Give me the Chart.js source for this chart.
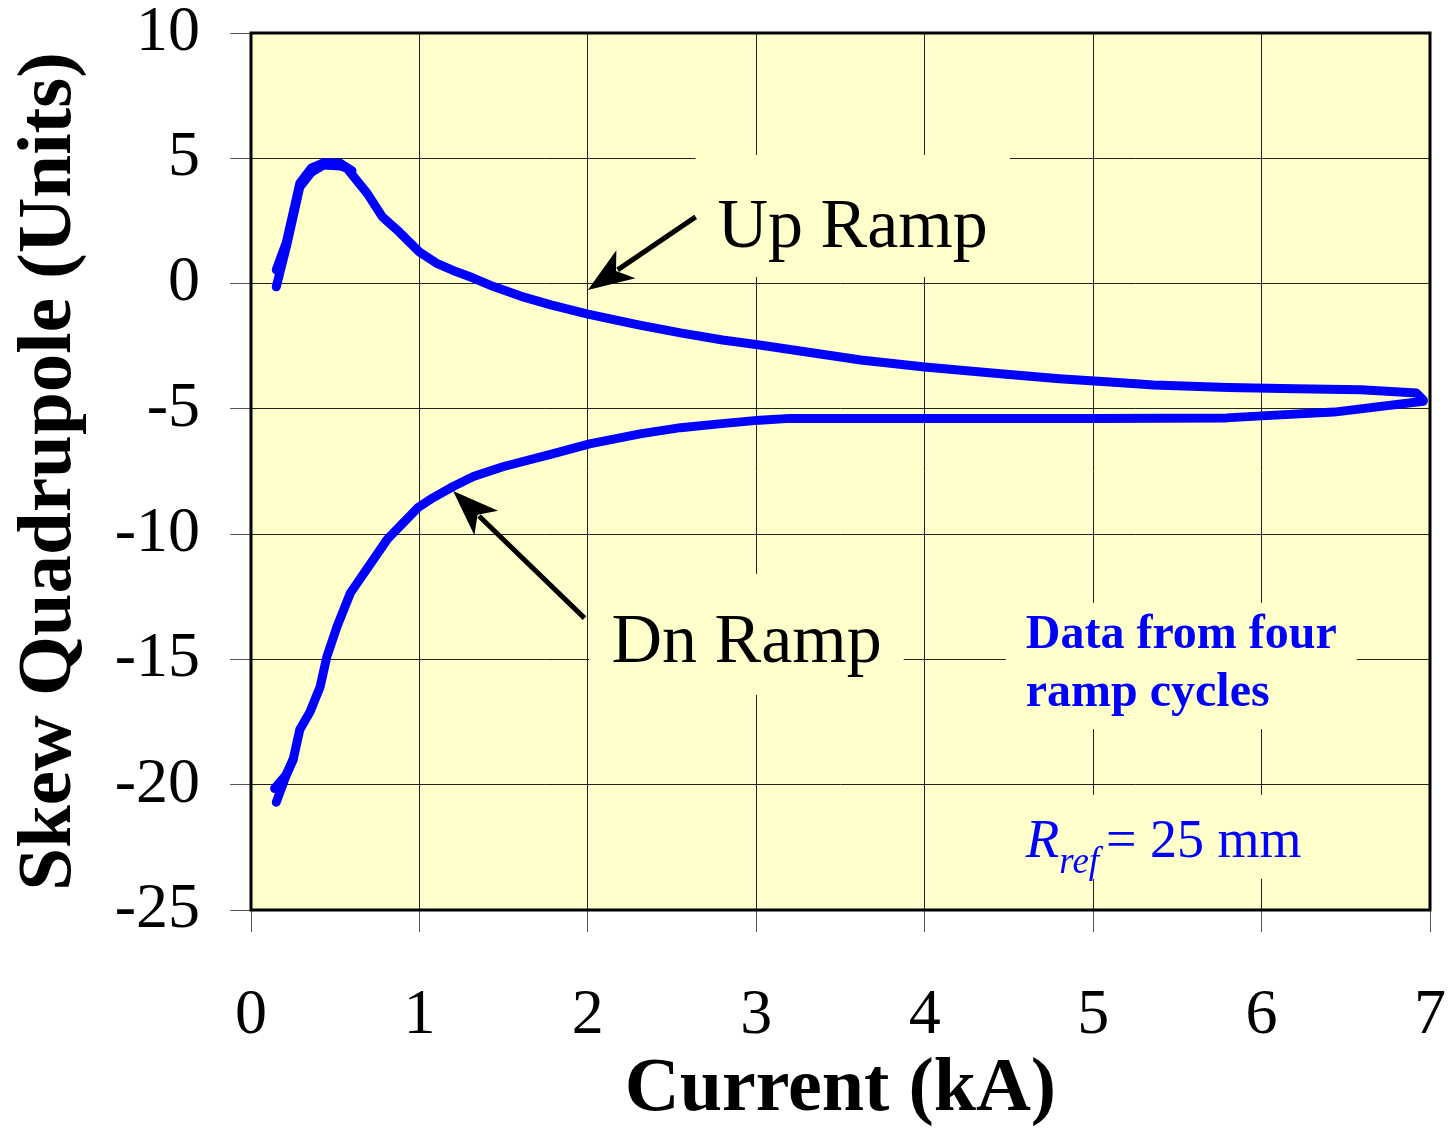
<!DOCTYPE html>
<html>
<head>
<meta charset="utf-8">
<script src="https://cdn.jsdelivr.net/npm/chart.js@4.4.1/dist/chart.umd.min.js"></script>
<style>
    html, body { margin: 0; padding: 0; background: #ffffff; }
    #wrap { width: 1449px; height: 1128px; }
</style>
</head>
<body>
<div id="wrap"><canvas id="chartSkewQuad"></canvas></div>
<script>
// Up ramp (cycle A, full) - current in kA, skew quadrupole in units
const upCurrent = [0.15, 0.21, 0.29, 0.36, 0.43, 0.53, 0.57, 0.69, 0.78, 0.88, 1.0, 1.10, 1.22, 1.32, 1.44, 1.6, 1.78, 2.0, 2.3, 2.55, 2.8, 3.02, 3.3, 3.62, 4.0, 4.45, 4.8, 5.1, 5.36, 5.8, 6.2, 6.59, 6.92, 6.96];
const upSkew = [-0.13, 1.47, 3.86, 4.45, 4.73, 4.69, 4.6, 3.6, 2.66, 2.06, 1.26, 0.82, 0.47, 0.22, -0.12, -0.5, -0.85, -1.22, -1.65, -1.97, -2.25, -2.45, -2.73, -3.05, -3.33, -3.6, -3.8, -3.93, -4.05, -4.15, -4.2, -4.24, -4.37, -4.64];

// Up ramp (cycle B, start only)
const upCurrentB = [0.15, 0.21, 0.29, 0.36, 0.43, 0.53, 0.6];
const upSkewB = [0.55, 1.65, 4.0, 4.62, 4.82, 4.8, 4.5];

// Down ramp (cycle A, full)
const dnCurrent = [6.96, 6.43, 6.0, 5.79, 5.0, 4.0, 3.2, 3.02, 2.78, 2.55, 2.31, 2.01, 1.79, 1.5, 1.32, 1.2, 1.08, 0.99, 0.81, 0.59, 0.51, 0.45, 0.41, 0.35, 0.29, 0.25, 0.21, 0.15];
const dnSkew = [-4.7, -5.13, -5.28, -5.36, -5.38, -5.38, -5.38, -5.45, -5.6, -5.75, -6.0, -6.4, -6.8, -7.3, -7.7, -8.1, -8.55, -8.95, -10.2, -12.35, -13.7, -14.9, -16.1, -17.1, -17.8, -19.0, -19.6, -20.7];

// Down ramp (cycle B, end only)
const dnCurrentB = [0.25, 0.21, 0.14];
const dnSkewB = [-19.0, -19.6, -20.15];

const xTicks = [0, 1, 2, 3, 4, 5, 6, 7];
const yTicks = [-25, -20, -15, -10, -5, 0, 5, 10];

const serif = "'Liberation Serif', 'Times New Roman', serif";
const blue = "#0000ff";

function puntos(xs, ys) {
    return xs.map((x, i) => ({ x: x, y: ys[i] }));
}

function serie(xs, ys) {
    return {
        data: puntos(xs, ys),
        showLine: true,
        borderColor: blue,
        borderWidth: 9,
        pointRadius: 0,
        tension: 0,
        borderCapStyle: "round",
        borderJoinStyle: "round"
    };
}

// annotation positions in data coordinates
const notas = {
    upText: { x: 2.77, y: 1.46, text: "Up Ramp" },
    dnText: { x: 2.14, y: -15.1, text: "Dn Ramp" },
    upArrow: { from: [2.64, 2.66], to: [2.0, -0.26] },
    dnArrow: { from: [1.98, -13.35], to: [1.20, -8.28] },
    info: { x: 4.6, y1: -14.54, y2: -16.86, line1: "Data from four", line2: "ramp cycles" },
    rref: { x: 4.6, y: -22.88 }
};

function flecha(ctx, x1, y1, x2, y2) {
    const ang = Math.atan2(y2 - y1, x2 - x1);
    const largo = 46, ancho = 17;
    const bx = x2 - largo * Math.cos(ang);
    const by = y2 - largo * Math.sin(ang);
    ctx.save();
    ctx.strokeStyle = "#000";
    ctx.fillStyle = "#000";
    ctx.lineWidth = 5;
    ctx.beginPath();
    ctx.moveTo(x1, y1);
    ctx.lineTo(bx + 10 * Math.cos(ang), by + 10 * Math.sin(ang));
    ctx.stroke();
    ctx.beginPath();
    ctx.moveTo(x2, y2);
    ctx.lineTo(bx + ancho * Math.sin(ang), by - ancho * Math.cos(ang));
    ctx.lineTo(bx + 12 * Math.cos(ang), by + 12 * Math.sin(ang));
    ctx.lineTo(bx - ancho * Math.sin(ang), by + ancho * Math.cos(ang));
    ctx.closePath();
    ctx.fill();
    ctx.restore();
}

function cajaTexto(ctx, x, y, w, arriba, abajo) {
    ctx.fillStyle = "#ffffcc";
    ctx.fillRect(x - 22, y - arriba, w + 44, arriba + abajo);
}

const fondoPlugin = {
    id: "fondo",
    beforeDraw(chart) {
        const { ctx, chartArea } = chart;
        ctx.save();
        ctx.fillStyle = "#ffffcc";
        ctx.fillRect(chartArea.left, chartArea.top, chartArea.right - chartArea.left, chartArea.bottom - chartArea.top);
        ctx.restore();
    },
    beforeDatasetsDraw(chart) {
        const { ctx, scales } = chart;
        const sx = v => scales.x.getPixelForValue(v);
        const sy = v => scales.y.getPixelForValue(v);
        ctx.save();
        ctx.textBaseline = "alphabetic";
        ctx.textAlign = "left";

        // label boxes hide the grid behind the text
        ctx.font = "70px " + serif;
        let w = ctx.measureText(notas.upText.text).width;
        cajaTexto(ctx, sx(notas.upText.x), sy(notas.upText.y), w, 92, 30);
        w = ctx.measureText(notas.dnText.text).width;
        cajaTexto(ctx, sx(notas.dnText.x), sy(notas.dnText.y), w, 88, 33);
        ctx.font = "bold 48px " + serif;
        w = ctx.measureText(notas.info.line1).width;
        ctx.fillStyle = "#ffffcc";
        ctx.fillRect(sx(notas.info.x) - 20, sy(notas.info.y1) - 45, w + 40, sy(notas.info.y2) - sy(notas.info.y1) + 68);
        ctx.fillRect(sx(notas.rref.x) - 17, sy(notas.rref.y) - 62, 300, 84);
        ctx.restore();
    },
    afterDraw(chart) {
        const { ctx, chartArea, scales } = chart;
        const sx = v => scales.x.getPixelForValue(v);
        const sy = v => scales.y.getPixelForValue(v);

        // plot frame
        ctx.save();
        ctx.strokeStyle = "#000";
        ctx.lineWidth = 3;
        ctx.strokeRect(chartArea.left, chartArea.top, chartArea.right - chartArea.left, chartArea.bottom - chartArea.top);
        ctx.restore();

        ctx.save();
        ctx.textBaseline = "alphabetic";
        ctx.textAlign = "left";
        ctx.fillStyle = "#000";
        ctx.font = "70px " + serif;
        ctx.fillText(notas.upText.text, sx(notas.upText.x), sy(notas.upText.y));
        ctx.fillText(notas.dnText.text, sx(notas.dnText.x), sy(notas.dnText.y));

        ctx.fillStyle = blue;
        ctx.font = "bold 48px " + serif;
        ctx.fillText(notas.info.line1, sx(notas.info.x), sy(notas.info.y1));
        ctx.fillText(notas.info.line2, sx(notas.info.x), sy(notas.info.y2));

        // R_ref = 25 mm
        let px = sx(notas.rref.x);
        const py = sy(notas.rref.y);
        ctx.font = "italic 55px " + serif;
        ctx.fillText("R", px, py);
        px += ctx.measureText("R").width;
        ctx.font = "italic 37px " + serif;
        ctx.fillText("ref", px, py + 16);
        px += ctx.measureText("ref").width + 7;
        ctx.font = "54px " + serif;
        ctx.fillText("= 25 mm", px, py);
        ctx.restore();

        flecha(ctx, sx(notas.upArrow.from[0]), sy(notas.upArrow.from[1]), sx(notas.upArrow.to[0]), sy(notas.upArrow.to[1]));
        flecha(ctx, sx(notas.dnArrow.from[0]), sy(notas.dnArrow.from[1]), sx(notas.dnArrow.to[0]), sy(notas.dnArrow.to[1]));
    }
};

document.addEventListener("DOMContentLoaded", () => {
    const ctx = document.getElementById("chartSkewQuad");

    if (!ctx) {
        console.error("Canvas element 'chartSkewQuad' not found");
        return;
    }

    new Chart(ctx, {
        type: "scatter",
        data: {
            datasets: [
                serie(upCurrent, upSkew),
                serie(upCurrentB, upSkewB),
                serie(dnCurrent, dnSkew),
                serie(dnCurrentB, dnSkewB)
            ]
        },
        options: {
            responsive: true,
            maintainAspectRatio: false,
            animation: false,
            layout: { padding: { top: 33, right: 19, left: 0, bottom: 0 } },
            plugins: {
                legend: { display: false },
                tooltip: { enabled: false }
            },
            scales: {
                x: {
                    type: "linear",
                    min: 0,
                    max: 7,
                    afterBuildTicks: scale => { scale.ticks = xTicks.map(v => ({ value: v })); },
                    afterFit: scale => {
                        scale.height = 218;
                        scale.paddingLeft = 0;
                        scale.paddingRight = 0;
                    },
                    grid: { color: "#222", lineWidth: 1, tickLength: 22, tickColor: "#555" },
                    border: { display: false },
                    ticks: {
                        color: "#000",
                        font: { family: serif, size: 64 },
                        padding: 46,
                        maxRotation: 0
                    },
                    title: {
                        display: true,
                        text: "Current (kA)",
                        color: "#000",
                        font: { family: serif, size: 76, weight: "bold", lineHeight: 1.0 },
                        padding: { top: 0, bottom: 0 }
                    }
                },
                y: {
                    type: "linear",
                    min: -25,
                    max: 10,
                    afterBuildTicks: scale => { scale.ticks = yTicks.map(v => ({ value: v })); },
                    afterFit: scale => {
                        scale.width = 251;
                        scale.paddingTop = 0;
                        scale.paddingBottom = 0;
                    },
                    grid: { color: "#222", lineWidth: 1, tickLength: 21, tickColor: "#555" },
                    border: { display: false },
                    ticks: {
                        color: "#000",
                        font: { family: serif, size: 64 },
                        padding: 30
                    },
                    title: {
                        display: true,
                        text: "Skew Quadrupole (Units)",
                        color: "#000",
                        font: { family: serif, size: 77, weight: "bold" },
                        padding: { top: 4, bottom: 0 }
                    }
                }
            }
        },
        plugins: [fondoPlugin]
    });
});
</script>
</body>
</html>
